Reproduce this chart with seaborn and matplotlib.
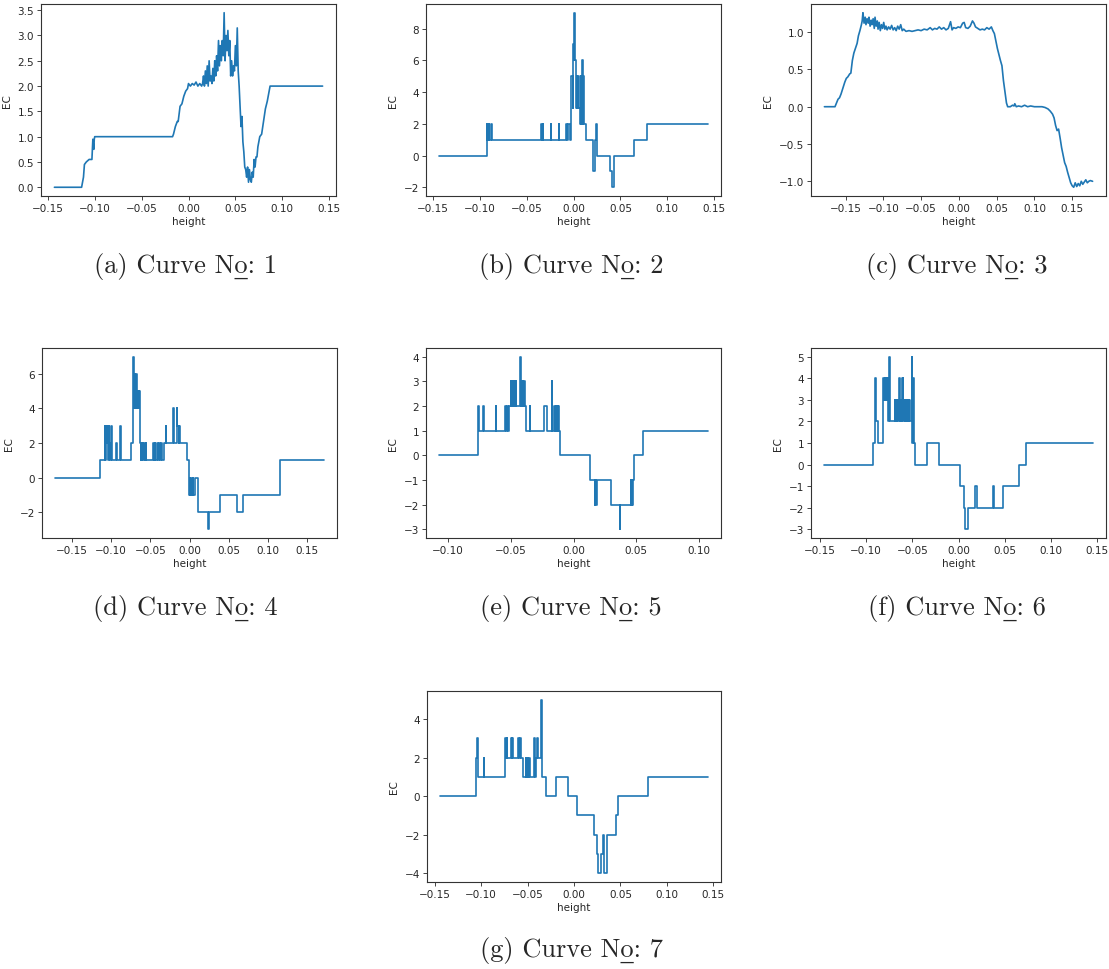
import matplotlib
matplotlib.use("Agg")
import matplotlib.pyplot as plt
import pandas as pd
import seaborn as sns

# Curve 1 (noisy, linear)
c1_x = [-0.143, -0.114, -0.113, -0.112, -0.111, -0.109, -0.106, -0.103, -0.102, -0.101, -0.1005, -0.100,
        -0.017, -0.016, -0.014, -0.012, -0.011, -0.009, -0.007, -0.005, -0.003, -0.001,
        0.000, 0.002, 0.004, 0.006, 0.008, 0.010, 0.012, 0.014,
        0.015, 0.016, 0.017, 0.018, 0.019, 0.020, 0.021, 0.022, 0.023, 0.024, 0.025, 0.026, 0.027,
        0.028, 0.029, 0.030, 0.031, 0.032, 0.033, 0.034, 0.035, 0.036, 0.037, 0.038, 0.039, 0.040,
        0.041, 0.042, 0.043, 0.044, 0.045, 0.046, 0.047, 0.048, 0.049, 0.050, 0.051, 0.052, 0.053,
        0.054, 0.055, 0.056, 0.057, 0.058, 0.059, 0.060, 0.061, 0.062, 0.063, 0.064, 0.065, 0.066,
        0.067, 0.068, 0.069, 0.070, 0.071, 0.072, 0.073, 0.074, 0.076, 0.078, 0.080, 0.082, 0.084,
        0.086, 0.087, 0.143]
c1_y = [0.0, 0.0, 0.1, 0.2, 0.45, 0.5, 0.55, 0.55, 0.95, 0.75, 0.95, 1.0,
        1.0, 1.05, 1.2, 1.3, 1.3, 1.6, 1.65, 1.8, 1.9, 1.95,
        2.05, 2.0, 2.05, 2.02, 2.08, 2.0, 2.05, 2.0,
        2.05, 2.2, 2.0, 2.3, 2.05, 2.4, 2.0, 2.5, 2.1, 2.2, 2.05, 2.35, 2.1,
        2.5, 2.2, 2.6, 2.3, 2.9, 2.4, 2.8, 2.5, 2.9, 2.6, 3.45, 2.5, 3.0,
        2.7, 3.1, 2.6, 2.9, 2.2, 2.5, 2.2, 2.4, 2.3, 2.8, 2.4, 3.15, 2.3,
        2.0, 1.6, 1.2, 1.4, 0.9, 0.7, 0.4, 0.35, 0.2, 0.4, 0.1, 0.35, 0.15,
        0.1, 0.3, 0.2, 0.55, 0.4, 0.6, 0.6, 0.8, 1.0, 1.05, 1.3, 1.55, 1.7,
        1.9, 2.0, 2.0]

# Curve 2 (steps: x where each level starts)
c2_x = [-0.143, -0.0925, -0.0918, -0.0905, -0.0898, -0.0875, -0.0868,
        -0.0345, -0.0338, -0.0330, -0.0323, -0.0245, -0.0240, -0.0155, -0.0150,
        -0.0075, -0.0068, -0.0055, -0.0040, -0.0030, -0.0022, -0.0010, -0.0005, 0.0, 0.0008,
        0.0016, 0.0025, 0.0035, 0.0042, 0.0050, 0.0058, 0.0065, 0.0075, 0.0082, 0.0090, 0.0096,
        0.0100, 0.0107, 0.0132, 0.0210, 0.0225, 0.0238, 0.0250, 0.0390, 0.0415, 0.0430,
        0.0650, 0.0785, 0.1430]
c2_y = [0, 2, 1, 2, 1, 2, 1,
        2, 1, 2, 1, 2, 1, 2, 1,
        2, 1, 2, 1, 2, 5, 3, 7, 6, 9,
        6, 3, 5, 3, 5, 3, 2, 5, 2, 6, 2,
        5, 2, 1, -1, 1, 2, 0, -1, -2, 0,
        1, 2, 2]

# Curve 3 (noisy, linear)
c3_x = [-0.178, -0.164, -0.162, -0.160, -0.158, -0.156, -0.1535, -0.151, -0.149, -0.147, -0.1445,
        -0.143, -0.141, -0.139, -0.137, -0.1347, -0.133, -0.131, -0.129, -0.128, -0.127, -0.1255,
        -0.124, -0.123, -0.1215, -0.120, -0.119, -0.1175, -0.116, -0.115, -0.1135, -0.112, -0.111,
        -0.1095, -0.108, -0.107, -0.1055, -0.104, -0.1025, -0.101, -0.0995, -0.098, -0.0965, -0.095,
        -0.093, -0.091, -0.089, -0.087, -0.085, -0.083, -0.081, -0.079, -0.077, -0.075, -0.073,
        -0.070, -0.066, -0.062, -0.058, -0.054, -0.050, -0.046, -0.042, -0.038, -0.035, -0.032,
        -0.029, -0.026, -0.023, -0.020, -0.017, -0.014, -0.011, -0.009, -0.007, -0.004, -0.001,
        0.002, 0.005, 0.007, 0.009, 0.012, 0.015, 0.018, 0.020, 0.022, 0.025, 0.028, 0.031,
        0.034, 0.037, 0.040, 0.043, 0.045, 0.047, 0.049, 0.051, 0.053, 0.055, 0.057, 0.059,
        0.061, 0.063, 0.0646, 0.068, 0.071, 0.073, 0.074, 0.076, 0.079, 0.083, 0.087, 0.091,
        0.095, 0.100, 0.105, 0.110, 0.114, 0.118, 0.121, 0.124, 0.126, 0.128, 0.130, 0.132,
        0.134, 0.136, 0.138, 0.140, 0.142, 0.144, 0.146, 0.148, 0.150, 0.152, 0.154, 0.156,
        0.158, 0.160, 0.162, 0.164, 0.166, 0.168, 0.170, 0.172, 0.174, 0.177]
c3_y = [0.0, 0.0, 0.05, 0.10, 0.12, 0.17, 0.25, 0.33, 0.38, 0.40, 0.44,
        0.45, 0.62, 0.72, 0.78, 0.85, 0.95, 1.02, 1.10, 1.15, 1.26, 1.12,
        1.20, 1.10, 1.18, 1.12, 1.20, 1.08, 1.16, 1.10, 1.18, 1.05, 1.20,
        1.08, 1.15, 1.04, 1.13, 1.02, 1.10, 1.05, 1.13, 1.04, 1.08, 1.03,
        1.07, 1.04, 1.09, 1.03, 1.06, 1.02, 1.08, 1.04, 1.10, 1.02, 1.04,
        1.01, 1.02, 1.01, 1.02, 1.03, 1.02, 1.04, 1.03, 1.06, 1.03, 1.05,
        1.04, 1.07, 1.04, 1.06, 1.03, 1.05, 1.14, 1.03, 1.06, 1.05, 1.07,
        1.06, 1.12, 1.13, 1.06, 1.05, 1.08, 1.15, 1.12, 1.07, 1.05, 1.03, 1.04,
        1.03, 1.06, 1.04, 1.07, 1.02, 0.98, 0.88, 0.78, 0.70, 0.62, 0.55, 0.35,
        0.20, 0.05, 0.0, 0.0, 0.02, 0.01, 0.04, 0.0, 0.01, 0.0, 0.02, 0.0,
        0.01, 0.0, 0.0, 0.0, -0.01, -0.03, -0.06, -0.10, -0.15, -0.25, -0.32, -0.30,
        -0.42, -0.55, -0.65, -0.75, -0.80, -0.88, -0.95, -1.02, -1.06, -1.08, -1.02, -1.07,
        -1.03, -1.06, -1.00, -1.04, -1.01, -0.98, -1.02, -1.00, -0.99, -1.00]

# Curve 4 (steps)
c4_x = [-0.171, -0.1145, -0.1080, -0.1072, -0.1065, -0.1058, -0.1050, -0.1043, -0.1032, -0.1025,
        -0.1015, -0.0995, -0.0988, -0.0935, -0.0928, -0.0885, -0.0878, -0.0750, -0.0715, -0.0705,
        -0.0700, -0.0690, -0.0683, -0.0675, -0.0668, -0.0660, -0.0655, -0.0648, -0.0640, -0.0630,
        -0.0622, -0.0615, -0.0608, -0.0600, -0.0592, -0.0585, -0.0570, -0.0560, -0.0553, -0.0470,
        -0.0455, -0.0445, -0.0435, -0.0410, -0.0400, -0.0390, -0.0380, -0.0360, -0.0350, -0.0320,
        -0.0305, -0.0295, -0.0205, -0.0195, -0.0162, -0.0155, -0.0140, -0.0130, -0.0120, -0.0030,
        -0.0005, 0.0005, 0.0012, 0.0020, 0.0028, 0.0040, 0.0045, 0.0070, 0.0105, 0.0235, 0.0250,
        0.0395, 0.0600, 0.0685, 0.1160, 0.1710]
c4_y = [0, 1, 3, 1, 3, 2, 3, 1, 3, 2,
        1, 3, 1, 2, 1, 3, 1, 2, 7, 4,
        6, 4, 6, 4, 5, 4, 5, 4, 5, 2,
        1, 2, 1, 2, 1, 2, 1, 2, 1, 2,
        1, 2, 1, 2, 1, 2, 1, 2, 1, 2,
        3, 2, 4, 2, 4, 3, 2, 3, 2, 1,
        -1, 0, -1, 0, -1, 0, -1, 0, -2, -3, -2,
        -1, -2, -1, 1, 1]

# Curve 5 (steps)
c5_x = [-0.107, -0.0765, -0.0762, -0.0755, -0.0725, -0.0718, -0.0622, -0.0615, -0.0547, -0.0540,
        -0.0530, -0.0523, -0.0518, -0.0500, -0.0495, -0.0490, -0.0485, -0.0480, -0.0475, -0.0470,
        -0.0465, -0.0460, -0.0455, -0.0428, -0.0422, -0.0415, -0.0410, -0.0405, -0.0400, -0.0395,
        -0.0388, -0.0380, -0.0350, -0.0345, -0.0238, -0.0208, -0.0173, -0.0168, -0.0152, -0.0147,
        -0.0142, -0.0137, -0.0132, -0.0127, -0.0122, -0.0115, -0.0108, 0.0132, 0.0170, 0.0175,
        0.0180, 0.0185, 0.0298, 0.0368, 0.0375, 0.0455, 0.0460, 0.0465, 0.0470, 0.0475, 0.0485,
        0.0557, 0.1070]
c5_y = [0, 1, 2, 1, 2, 1, 2, 1, 2, 1,
        2, 1, 2, 3, 2, 3, 2, 3, 2, 3,
        2, 3, 2, 4, 2, 3, 2, 3, 2, 3,
        2, 1, 2, 1, 2, 1, 3, 1, 2, 1,
        2, 1, 2, 1, 2, 1, 0, -1, -2, -1,
        -2, -1, -2, -3, -2, -1, -2, -1, -2, -1, 0,
        1, 1]

# Curve 6 (steps)
c6_x = [-0.145, -0.0920, -0.0898, -0.0890, -0.0870, -0.0815, -0.0808, -0.0800, -0.0795, -0.0790,
        -0.0785, -0.0780, -0.0775, -0.0770, -0.0765, -0.0752, -0.0745, -0.0690, -0.0685, -0.0675,
        -0.0670, -0.0660, -0.0655, -0.0640, -0.0633, -0.0625, -0.0620, -0.0612, -0.0605, -0.0600,
        -0.0595, -0.0588, -0.0582, -0.0575, -0.0570, -0.0560, -0.0552, -0.0545, -0.0538, -0.0530,
        -0.0522, -0.0505, -0.0498, -0.0492, -0.0486, -0.0470, -0.0340, -0.0208, 0.0018, 0.0055,
        0.0070, 0.0105, 0.0180, 0.0200, 0.0370, 0.0385, 0.0485, 0.0650, 0.0735, 0.1450]
c6_y = [0, 1, 4, 2, 1, 4, 3, 4, 3, 4,
        3, 4, 3, 4, 2, 5, 2, 3, 2, 3,
        2, 3, 2, 4, 2, 3, 2, 4, 3, 4,
        2, 3, 2, 3, 2, 3, 2, 3, 2, 3,
        2, 5, 1, 4, 1, 0, 1, 0, -1, -2,
        -3, -2, -1, -2, -1, -2, -1, 0, 1, 1]

# Curve 7 (steps)
c7_x = [-0.144, -0.1055, -0.1045, -0.1038, -0.0975, -0.0968, -0.0745, -0.0738, -0.0725, -0.0718,
        -0.0680, -0.0670, -0.0665, -0.0655, -0.0600, -0.0593, -0.0585, -0.0575, -0.0550, -0.0520,
        -0.0513, -0.0500, -0.0493, -0.0480, -0.0473, -0.0430, -0.0423, -0.0410, -0.0395, -0.0388,
        -0.0360, -0.0350, -0.0340, -0.0305, -0.0190, -0.0070, 0.0036, 0.0215, 0.0245, 0.0262,
        0.0288, 0.0310, 0.0325, 0.0355, 0.0455, 0.0472, 0.0793, 0.1440]
c7_y = [0, 2, 3, 1, 2, 1, 3, 2, 3, 2,
        3, 2, 3, 2, 3, 2, 3, 2, 1, 2,
        1, 2, 1, 2, 1, 3, 1, 2, 3, 2,
        5, 2, 1, 0, 1, 0, -1, -2, -3, -4,
        -3, -2, -4, -2, -1, 0, 1, 1]

curves = [
    (c1_x, c1_y, "default"),
    (c2_x, c2_y, "steps-post"),
    (c3_x, c3_y, "default"),
    (c4_x, c4_y, "steps-post"),
    (c5_x, c5_y, "steps-post"),
    (c6_x, c6_y, "steps-post"),
    (c7_x, c7_y, "steps-post"),
]
letters = ["a", "b", "c", "d", "e", "f", "g"]

sns.set_style("ticks")
plt.rcParams["font.family"] = ["DejaVu Sans"]
plt.rcParams["axes.edgecolor"] = "#333333"
plt.rcParams["axes.linewidth"] = 0.8

W, H = 1109, 970
fig = plt.figure(figsize=(W / 100, H / 100), dpi=100)

# axes boxes in pixels: left, top, right, bottom
boxes = [
    (41, 5, 336, 197), (426, 5, 721, 197), (811, 5, 1106, 197),
    (42, 349, 337, 539), (426, 349, 721, 539), (811, 349, 1106, 539),
    (427, 692, 721, 883),
]
captions_xy = [(185, 267), (571, 267), (957, 267),
               (185, 609), (571, 609), (957, 609),
               (571, 951)]

for i, ((x, y, ds), box) in enumerate(zip(curves, boxes)):
    l, t, r, b = box
    ax = fig.add_axes([l / W, 1 - b / H, (r - l) / W, (b - t) / H])
    df = pd.DataFrame({"height": x, "EC": y})
    sns.lineplot(data=df, x="height", y="EC", ax=ax, estimator=None, sort=False,
                 color="#1f77b4", linewidth=1.2, drawstyle=ds)
    ax.set_xlabel("height", fontsize=7.5, labelpad=2)
    ax.set_ylabel("EC", fontsize=7.5, labelpad=4)
    ax.tick_params(labelsize=7.5, length=3, width=0.6, pad=2)
    cx, cy = captions_xy[i]
    fig.text(cx / W, 1 - cy / H,
             "(%s) Curve No\u0332: %d" % (letters[i], i + 1),
             family=["cmr10", "DejaVu Serif"], fontsize=19, ha="center", va="center")

fig.savefig("out.png", dpi=100)
